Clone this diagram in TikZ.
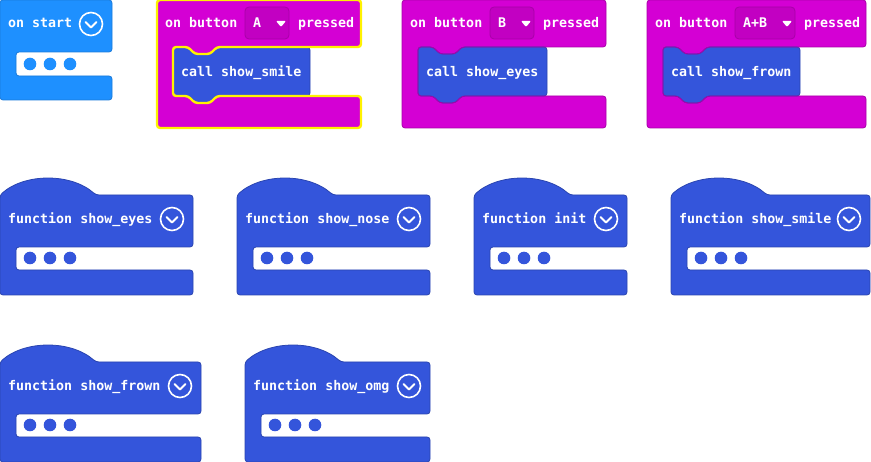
\documentclass[tikz,border=0pt]{standalone}
\usepackage{fontspec}
\newfontfamily\blockfont{DejaVu Sans Mono}
\definecolor{startblue}{HTML}{1E90FF}
\definecolor{startedge}{HTML}{1A7AD9}
\definecolor{btnpink}{HTML}{D400D4}
\definecolor{btnedge}{HTML}{A800A8}
\definecolor{dropfill}{HTML}{C200C2}
\definecolor{funcblue}{HTML}{3455DB}
\definecolor{funcedge}{HTML}{2A45B0}
\definecolor{selyellow}{HTML}{FFF200}

\tikzset{
	blocktext/.style={text=white, font=\blockfont\bfseries\fontsize{13.3}{16}\selectfont, inner sep=0pt, anchor=base west},
	blockedge/.style={line width=0.8pt, rounded corners=3pt},
	chevron/.style={white, line width=2pt, line cap=round, line join=round},
}

% C shaped event block, and the call block that sits in it
\newcommand{\buttonpath}[1]{(0,0) -- (#1,0) -- (#1,47) -- (60,47) -- (53,54) -- (38,54) -- (31,47) -- (16,47) -- (16,96) -- (31,96) -- (38,103) -- (53,103) -- (60,96) -- (#1,96) -- (#1,128) -- (0,128) -- cycle}
\newcommand{\callpath}[1]{(16,47) -- (31,47) -- (38,54) -- (53,54) -- (60,47) -- (#1,47) -- (#1,96) -- (60,96) -- (53,103) -- (38,103) -- (31,96) -- (16,96) -- cycle}
\newcommand{\chev}[2]{\draw[white, line width=1.6pt] (#1,#2) circle[radius=11.5];
	\draw[chevron] (#1-5.5,#2-2) -- (#1,#2+3.5) -- (#1+5.5,#2-2);}
\newcommand{\slotdots}[2]{\foreach \d in {30,50,70} \fill[#1] (\d,#2) circle[radius=6.3];}

\begin{document}
\begin{tikzpicture}[x=1pt, y=-1pt]
	\useasboundingbox (0,0) rectangle (871,462);

	% on start
	\filldraw[fill=startblue, draw=startedge, blockedge] (0,0) -- (112,0) -- (112,52) -- (16,52) -- (16,76) -- (112,76) -- (112,100) -- (0,100) -- cycle;
	\node[blocktext] (start) at (8,28) {on start};
	\chev{91}{24}
	\slotdots{startblue}{64}

	% on button ... pressed
	\foreach \x/\w/\dw/\btn/\cw/\callname/\nm/\ec/\lw in {157/204/44/A/153/show\_smile/a/selyellow/2.4pt,
		402/204/44/B/145/show\_eyes/b/btnedge/0.8pt, 647/219/60/A+B/153/show\_frown/ab/btnedge/0.8pt}{
		\begin{scope}[shift={(\x,0)}]
			\fill[btnpink, rounded corners=3pt] \buttonpath{\w};
			\filldraw[fill=funcblue, draw=funcedge, blockedge] \callpath{\cw};
			\draw[draw=\ec, line width=\lw, rounded corners=3pt] \buttonpath{\w};
			\node[blocktext] (on\nm) at (8,28) {on button};
			\filldraw[fill=dropfill, draw=btnedge, line width=0.8pt, rounded corners=4pt] (88,7) rectangle (88+\dw,39);
			\node[blocktext] (key\nm) at (96,28) {\btn};
			\fill[white, rounded corners=1pt] (75+\dw,21) -- (85+\dw,21) -- (80+\dw,27) -- cycle;
			\node[blocktext] (pressed\nm) at (97+\dw,28) {pressed};
			\node[blocktext] (call\nm) at (24,77) {call \callname};
		\end{scope}
	}

	% function blocks
	\foreach \x/\t/\w/\nm/\fnlabel in {0/195/193/eyes/show\_eyes, 237/195/193/nose/show\_nose,
		474/195/153/init/init, 671/195/199/smile/show\_smile,
		0/362/201/frown/show\_frown, 245/362/185/omg/show\_omg}{
		\begin{scope}[shift={(\x,\t)}]
			\filldraw[fill=funcblue, draw=funcedge, blockedge] (0,100) -- (0,0) .. controls (25,-22) and (71,-22) .. (96,0) -- (\w,0) -- (\w,52) -- (16,52) -- (16,75) -- (\w,75) -- (\w,100) -- cycle;
			\node[blocktext] (fn\nm) at (8,29) {function \fnlabel};
			\chev{\w-21}{24}
			\slotdots{funcblue}{63}
		\end{scope}
	}
\end{tikzpicture}
\end{document}
